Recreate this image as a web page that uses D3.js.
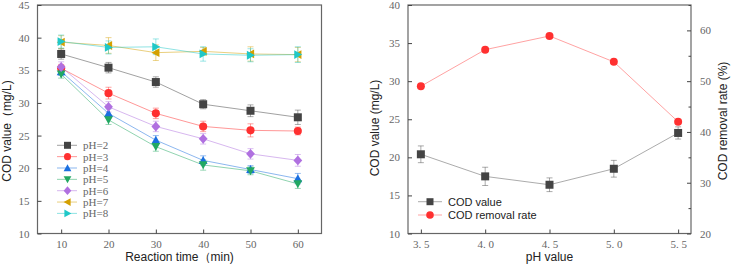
<!DOCTYPE html>
<html>
<head>
<meta charset="utf-8">
<script src="https://cdn.jsdelivr.net/npm/d3@7"></script>
<style>
  body { margin: 0; background: #fff; }
  svg text { font-family: "Liberation Serif", serif; }
  .ttl { font-family: "Liberation Sans", Arial, sans-serif; font-size: 12px; fill: #222; }
  .leg { font-family: "Liberation Sans", Arial, sans-serif; font-size: 11px; fill: #222; }
</style>
</head>
<body>
<svg id="chart" width="731" height="264"></svg>
<script>
// ---- left panel data: COD vs reaction time for different pH ----
const times = [10, 20, 30, 40, 50, 60];
const series = [
  { name: "pH=2", shape: "square",   color: "#444444", values: [37.5, 35.4, 33.2, 29.8, 28.8, 27.8], err: [0.8, 0.8, 0.8, 0.7, 0.9, 1.1] },
  { name: "pH=3", shape: "circle",   color: "#ff3030", values: [35.3, 31.5, 28.4, 26.4, 25.8, 25.7], err: [0.6, 0.9, 0.8, 0.8, 1.0, 0.6] },
  { name: "pH=4", shape: "triangle", color: "#1a6fe0", values: [34.8, 28.4, 24.3, 21.2, 19.8, 18.4], err: [0.6, 0.7, 0.7, 0.7, 0.6, 0.8] },
  { name: "pH=5", shape: "tridown",  color: "#22a862", values: [34.4, 27.4, 23.3, 20.5, 19.6, 17.6], err: [0.6, 0.7, 0.7, 0.8, 0.6, 0.7] },
  { name: "pH=6", shape: "diamond",  color: "#b070e0", values: [35.5, 29.4, 26.4, 24.5, 22.2, 21.2], err: [0.8, 0.8, 0.8, 0.8, 0.8, 0.9] },
  { name: "pH=7", shape: "trileft",  color: "#d4a000", values: [39.3, 38.8, 37.7, 37.9, 37.5, 37.4], err: [1.0, 1.2, 1.2, 0.6, 1.1, 1.1] },
  { name: "pH=8", shape: "triright", color: "#20c8c8", values: [39.4, 38.5, 38.6, 37.5, 37.3, 37.4], err: [1.0, 1.0, 1.2, 1.1, 1.0, 1.2] }
];
const leftYTicks = [10, 15, 20, 25, 30, 35, 40, 45];

// ---- right panel data: COD and removal rate vs pH ----
const phValues = [3.5, 4.0, 4.5, 5.0, 5.5];
const codValue = [20.4, 17.5, 16.4, 18.5, 23.2];
const codErr = [1.1, 1.2, 0.9, 1.1, 0.8];
const removalRate = [49.0, 56.2, 58.9, 53.8, 42.0];
const rightYTicks = [10, 15, 20, 25, 30, 35, 40];
const rateTicks = [20, 30, 40, 50, 60];
const rateMinor = [25, 35, 45, 55, 65];

const svg = d3.select("#chart");
const axisColor = "#666";
const tickColor = "#444";

function symbolPath(shape, size) {
  const s = size;
  switch (shape) {
    case "square": return d3.symbol(d3.symbolSquare, s * s)();
    case "circle": return d3.symbol(d3.symbolCircle, s * s * 0.8)();
    case "diamond": return `M0,${-s * 0.62}L${s * 0.55},0L0,${s * 0.62}L${-s * 0.55},0Z`;
    case "triangle": return `M0,${-s * 0.55}L${s * 0.55},${s * 0.45}L${-s * 0.55},${s * 0.45}Z`;
    case "tridown": return `M0,${s * 0.55}L${s * 0.55},${-s * 0.45}L${-s * 0.55},${-s * 0.45}Z`;
    case "trileft": return `M${-s * 0.55},0L${s * 0.45},${-s * 0.55}L${s * 0.45},${s * 0.55}Z`;
    case "triright": return `M${s * 0.55},0L${-s * 0.45},${-s * 0.55}L${-s * 0.45},${s * 0.55}Z`;
  }
}

// ================= left panel =================
const L = { x0: 37.5, x1: 321.5, y0: 5, y1: 233.5 };
const xL = d3.scaleLinear().domain([5, 65]).range([L.x0, L.x1]);
const yL = d3.scaleLinear().domain([10, 45]).range([L.y1, L.y0]);

const gL = svg.append("g");

// frame
gL.append("rect").attr("x", L.x0).attr("y", L.y0)
  .attr("width", L.x1 - L.x0).attr("height", L.y1 - L.y0)
  .attr("fill", "none").attr("stroke", "#666").attr("stroke-width", 1.2);

// axes (ticks inward)
const axL = gL.append("g").attr("transform", `translate(${L.x0},0)`)
  .call(d3.axisLeft(yL).tickValues(leftYTicks).tickSize(-4).tickPadding(8).tickFormat(d3.format("d")));
const axB = gL.append("g").attr("transform", `translate(0,${L.y1})`)
  .call(d3.axisBottom(xL).tickValues(times).tickSize(-4).tickPadding(7).tickFormat(d3.format("d")));
[axL, axB].forEach(a => {
  a.select(".domain").remove();
  a.selectAll("line").attr("stroke", tickColor);
  a.selectAll("text").attr("fill", axisColor).style("font-size", "11px");
});

// lines
series.forEach(s => {
  const line = d3.line().x((d, i) => xL(times[i])).y(d => yL(d));
  gL.append("path").datum(s.values).attr("d", line)
    .attr("fill", "none").attr("stroke", s.color).attr("stroke-opacity", 0.5).attr("stroke-width", 1);
});
// error bars
series.forEach(s => {
  const eb = gL.append("g").attr("stroke", s.color).attr("stroke-opacity", 0.45).attr("stroke-width", 1);
  s.values.forEach((v, i) => {
    const x = xL(times[i]);
    eb.append("line").attr("x1", x).attr("x2", x).attr("y1", yL(v - s.err[i])).attr("y2", yL(v + s.err[i]));
    eb.append("line").attr("x1", x - 3).attr("x2", x + 3).attr("y1", yL(v - s.err[i])).attr("y2", yL(v - s.err[i]));
    eb.append("line").attr("x1", x - 3).attr("x2", x + 3).attr("y1", yL(v + s.err[i])).attr("y2", yL(v + s.err[i]));
  });
});
// markers
series.forEach(s => {
  gL.append("g").selectAll("path").data(s.values).join("path")
    .attr("d", symbolPath(s.shape, 8))
    .attr("transform", (d, i) => `translate(${xL(times[i])},${yL(d)})`)
    .attr("fill", s.color);
});

// legend
const legL = gL.append("g");
series.forEach((s, i) => {
  const y = 145.3 + i * 11.35;
  legL.append("line").attr("x1", 57).attr("x2", 77).attr("y1", y).attr("y2", y)
    .attr("stroke", s.color).attr("stroke-opacity", 0.5);
  legL.append("path").attr("d", symbolPath(s.shape, 7)).attr("transform", `translate(67.5,${y})`).attr("fill", s.color);
  legL.append("text").attr("x", 83).attr("y", y).attr("dy", "0.35em")
    .attr("fill", axisColor).style("font-size", "11px").text(s.name);
});

// titles
svg.append("text").attr("class", "ttl").attr("text-anchor", "middle")
  .attr("transform", `translate(11,131) rotate(-90)`).text("COD value（mg/L)");
svg.append("text").attr("class", "ttl").attr("text-anchor", "middle")
  .attr("x", (L.x0 + L.x1) / 2).attr("y", 261).text("Reaction time（min)");

// ================= right panel =================
const R = { x0: 408, x1: 691, y0: 5, y1: 233.5 };
const xR = d3.scaleLinear().domain([3.4, 5.6]).range([R.x0, R.x1]);
const yR = d3.scaleLinear().domain([10, 40]).range([R.y1, R.y0]);
const yRate = d3.scaleLinear().domain([20, 65]).range([R.y1, R.y0]);

const gR = svg.append("g");
gR.append("rect").attr("x", R.x0).attr("y", R.y0)
  .attr("width", R.x1 - R.x0).attr("height", R.y1 - R.y0)
  .attr("fill", "none").attr("stroke", "#666").attr("stroke-width", 1.2);

const axRL = gR.append("g").attr("transform", `translate(${R.x0},0)`)
  .call(d3.axisLeft(yR).tickValues(rightYTicks).tickSize(-4).tickPadding(8).tickFormat(d3.format("d")));
const axRB = gR.append("g").attr("transform", `translate(0,${R.y1})`)
  .call(d3.axisBottom(xR).tickValues(phValues).tickSize(-4).tickPadding(7).tickFormat(d => d.toFixed(1).replace(".", ". ")));
const axRR = gR.append("g").attr("transform", `translate(${R.x1},0)`)
  .call(d3.axisRight(yRate).tickValues(rateTicks).tickSize(-4).tickPadding(9).tickFormat(d3.format("d")));
gR.append("g").attr("transform", `translate(${R.x1},0)`)
  .call(d3.axisRight(yRate).tickValues(rateMinor).tickSize(-2.5).tickFormat(""))
  .call(a => a.select(".domain").remove())
  .selectAll("line").attr("stroke", tickColor);
[axRL, axRB, axRR].forEach(a => {
  a.select(".domain").remove();
  a.selectAll("line").attr("stroke", tickColor);
  a.selectAll("text").attr("fill", axisColor).style("font-size", "11px");
});

// COD value line
gR.append("path").datum(codValue)
  .attr("d", d3.line().x((d, i) => xR(phValues[i])).y(d => yR(d)))
  .attr("fill", "none").attr("stroke", "#444").attr("stroke-opacity", 0.45);
// removal rate line
gR.append("path").datum(removalRate)
  .attr("d", d3.line().x((d, i) => xR(phValues[i])).y(d => yRate(d)))
  .attr("fill", "none").attr("stroke", "#ff3030").attr("stroke-opacity", 0.45);
// error bars
const ebR = gR.append("g").attr("stroke", "#444").attr("stroke-opacity", 0.45);
codValue.forEach((v, i) => {
  const x = xR(phValues[i]);
  ebR.append("line").attr("x1", x).attr("x2", x).attr("y1", yR(v - codErr[i])).attr("y2", yR(v + codErr[i]));
  ebR.append("line").attr("x1", x - 3).attr("x2", x + 3).attr("y1", yR(v - codErr[i])).attr("y2", yR(v - codErr[i]));
  ebR.append("line").attr("x1", x - 3).attr("x2", x + 3).attr("y1", yR(v + codErr[i])).attr("y2", yR(v + codErr[i]));
});
gR.append("g").selectAll("path").data(codValue).join("path")
  .attr("d", symbolPath("square", 8))
  .attr("transform", (d, i) => `translate(${xR(phValues[i])},${yR(d)})`)
  .attr("fill", "#444");
gR.append("g").selectAll("circle").data(removalRate).join("circle")
  .attr("cx", (d, i) => xR(phValues[i])).attr("cy", d => yRate(d)).attr("r", 4)
  .attr("fill", "#ff3030");

// legend
const legR = gR.append("g");
[["COD value", "#444", "square"], ["COD removal rate", "#ff3030", "circle"]].forEach(([t, c, sh], i) => {
  const y = 201.7 + i * 13.3;
  legR.append("line").attr("x1", 418).attr("x2", 442).attr("y1", y).attr("y2", y)
    .attr("stroke", c).attr("stroke-opacity", 0.45);
  if (sh === "square") legR.append("path").attr("d", symbolPath("square", 7)).attr("transform", `translate(430,${y})`).attr("fill", c);
  else legR.append("circle").attr("cx", 430).attr("cy", y).attr("r", 3.8).attr("fill", c);
  legR.append("text").attr("class", "leg").attr("x", 448).attr("y", y).attr("dy", "0.35em").text(t);
});

// titles
svg.append("text").attr("class", "ttl").attr("text-anchor", "middle")
  .attr("transform", `translate(379,128) rotate(-90)`).text("COD value (mg/L)");
svg.append("text").attr("class", "ttl").attr("text-anchor", "middle")
  .attr("transform", `translate(727,121) rotate(-90)`).text("COD removal rate (%)");
svg.append("text").attr("class", "ttl").attr("text-anchor", "middle")
  .attr("x", (R.x0 + R.x1) / 2).attr("y", 261).text("pH value");
</script>
</body>
</html>
